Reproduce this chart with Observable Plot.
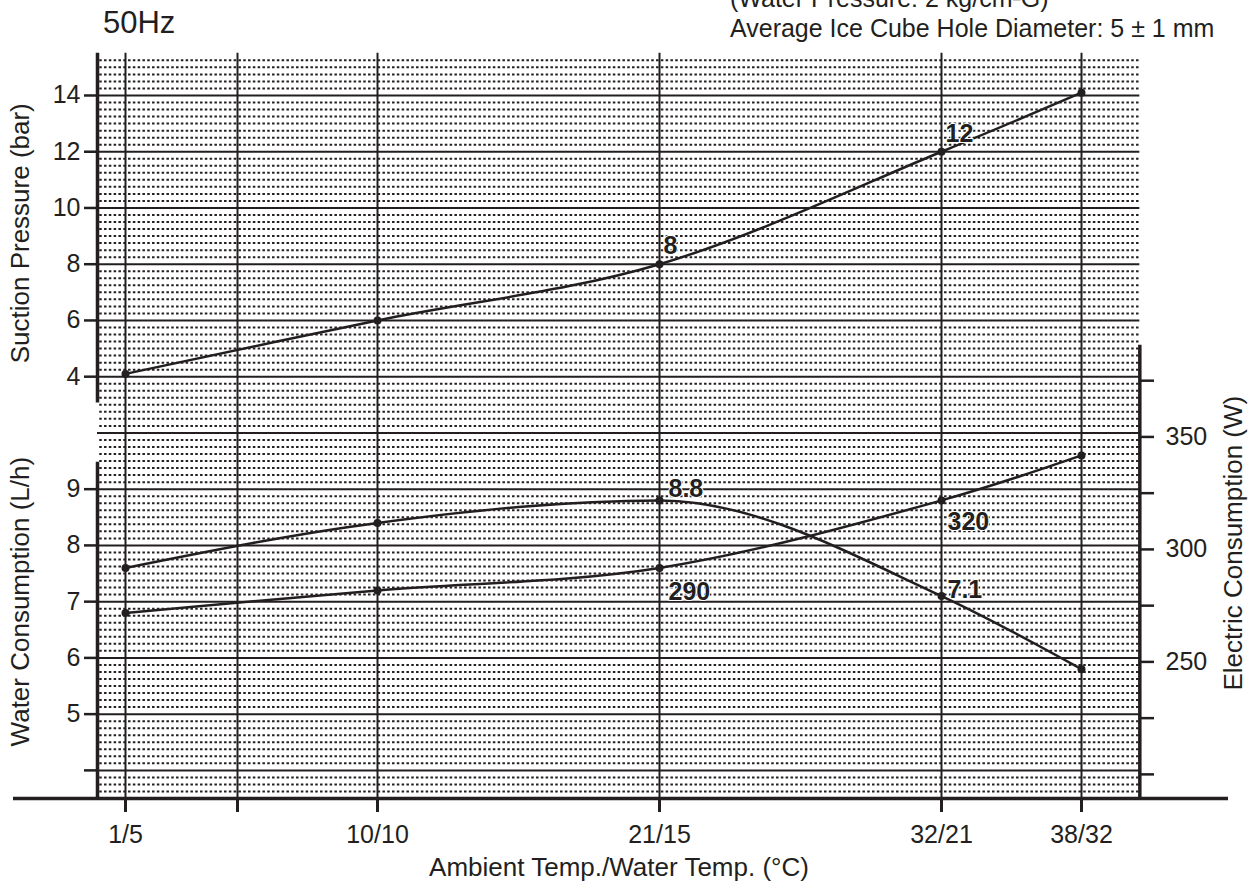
<!DOCTYPE html>
<html><head><meta charset="utf-8">
<script src="https://cdn.jsdelivr.net/npm/d3@7"></script>
<script src="https://cdn.jsdelivr.net/npm/@observablehq/plot@0.6"></script>
<style>
html,body{margin:0;padding:0;background:#fff;overflow:hidden;}
#wrap{position:relative;width:1258px;height:888px;overflow:hidden;font-family:"Liberation Sans",Arial,sans-serif;color:#231f20;}
#wrap svg{position:absolute;left:0;top:0;}
.t{position:absolute;white-space:nowrap;line-height:1;}
</style></head><body>
<div id="wrap">
<div class="t" style="left:103px;top:7px;font-size:31px;">50Hz</div>
<div class="t" style="left:730px;top:-14px;font-size:25px;">(Water Pressure: 2 kg/cm²G)</div>
<div class="t" style="left:730px;top:16px;font-size:25px;">Average Ice Cube Hole Diameter: 5 ± 1 mm</div>
</div>
<script>
// ---- data ----
const categories = ["1/5", "10/10", "21/15", "32/21", "38/32"];
const ambientTemp = [1, 10, 21, 32, 38];
const suctionPressure = [4.1, 6.0, 8.0, 12.0, 14.1];
const waterConsumption = [7.6, 8.4, 8.8, 7.1, 5.8];
const electricConsumption = [270, 280, 290, 320, 340];
const suctionLabels = [null, null, "8", "12", null];
const waterLabels = [null, null, "8.8", "7.1", null];
const electricLabels = [null, null, "290", "320", null];
const suctionTicks = [4, 6, 8, 10, 12, 14];
const waterTicks = [4, 5, 6, 7, 8, 9];
const electricTicks = [200, 225, 250, 275, 300, 325, 350, 375];
const electricTickLabels = [250, 300, 350];
const xTickValues = [1, 5, 10, 21, 32, 38];

const rows = categories.map((c, i) => ({
  cat: c, t: ambientTemp[i],
  suction: suctionPressure[i], water: waterConsumption[i], electric: electricConsumption[i],
  sl: suctionLabels[i], wl: waterLabels[i], el: electricLabels[i]
}));

// ---- layout ----
const W = 1258, H = 888;
const M = {marginTop: 52.8, marginBottom: 90, marginLeft: 97, marginRight: 118};
const xOpt = {type: "linear", domain: ambientTemp, range: [125, 377, 659, 941, 1081]};
const xLeft = 0, xRight = 40.5;
const ink = "#231f20";
const font = {fontFamily: "Liberation Sans, Arial, sans-serif", fontSize: "25px", color: ink, background: "transparent", overflow: "visible"};
const labelStyle = {textAnchor: "start", fontSize: 25, fontWeight: "bold", fill: ink, stroke: "white", strokeWidth: 2};

// grid in suction units (one grid cell = 2 bar)
const gridU = d3.range(0, 13);
const dotU = d3.range(-0.625, 12.5, 0.125).filter(u => Math.abs(u - Math.round(u)) > 1e-6);
const suctionDomain = [-11, 15.5];

const base = Plot.plot({
  width: W, height: H, ...M, style: font,
  x: xOpt, y: {domain: suctionDomain},
  marks: [
    Plot.ruleY(dotU.map(u => 14 - 2 * u), {x1: xLeft + 0.08, x2: xRight, stroke: ink, strokeWidth: 2, strokeDasharray: "2.5,2.3"}),
    Plot.ruleY(gridU.map(u => 14 - 2 * u), {x1: xLeft, x2: xRight, stroke: ink, strokeWidth: 2}),
    Plot.ruleX(xTickValues, {y1: suctionDomain[0], y2: suctionDomain[1], stroke: ink, strokeWidth: 2}),
    // left axis (upper segment) and bottom axis line
    Plot.ruleX([xLeft], {y1: 3.06, y2: suctionDomain[1], stroke: ink, strokeWidth: 3.5}),
    Plot.ruleY([suctionDomain[0]], {x1: -3, x2: 44.3, stroke: ink, strokeWidth: 3.5}),
    Plot.axisX({ticks: xTickValues, tickFormat: d => { const i = ambientTemp.indexOf(d); return i < 0 ? "" : categories[i]; },
      tickSize: 14, tickPadding: 13, strokeWidth: 3, fontSize: 25, label: null}),
    Plot.text(["Ambient Temp./Water Temp. (°C)"], {frameAnchor: "bottom", dy: 77, fontSize: 26, fill: ink}),
    Plot.axisY({ticks: suctionTicks, tickSize: 13, tickPadding: 4, strokeWidth: 2.5, fontSize: 25, label: null}),
    Plot.text(["Suction Pressure (bar)"], {x: xLeft, y: 9.1, rotate: -90, dx: -77, fontSize: 26, fill: ink}),
    Plot.line(rows, {x: "t", y: "suction", curve: "catmull-rom", stroke: ink, strokeWidth: 2.5}),
    Plot.dot(rows, {x: "t", y: "suction", r: 4, fill: ink}),
    Plot.text(rows, {filter: d => d.sl, x: "t", y: "suction", text: "sl", dx: 4, dy: -18, ...labelStyle})
  ]
});

const waterDomain = [3.5, 16.75];
const water = Plot.plot({
  width: W, height: H, ...M, style: font,
  x: {...xOpt, axis: null}, y: {domain: waterDomain},
  marks: [
    Plot.ruleX([xLeft], {y1: waterDomain[0], y2: 9.48, stroke: ink, strokeWidth: 3.5}),
    Plot.axisY({ticks: waterTicks, tickFormat: d => d === 4 ? "" : d, tickSize: 13, tickPadding: 4, strokeWidth: 2.5, fontSize: 25, label: null}),
    Plot.text(["Water Consumption (L/h)"], {x: xLeft, y: 7.0, rotate: -90, dx: -77, fontSize: 26, fill: ink}),
    Plot.line(rows, {x: "t", y: "water", curve: "monotone-x", stroke: ink, strokeWidth: 2.5}),
    Plot.dot(rows, {x: "t", y: "water", r: 4, fill: ink}),
    Plot.text(rows, {filter: d => d.wl === "8.8", x: "t", y: "water", text: "wl", dx: 9, dy: -11, ...labelStyle}),
    Plot.text(rows, {filter: d => d.wl === "7.1", x: "t", y: "water", text: "wl", dx: 6, dy: -6, ...labelStyle})
  ]
});

const electricDomain = [187.5, 518.75];
const electric = Plot.plot({
  width: W, height: H, ...M, style: font,
  x: {...xOpt, axis: null}, y: {domain: electricDomain},
  marks: [
    Plot.ruleX([xRight], {y1: electricDomain[0], y2: 389, stroke: ink, strokeWidth: 3.5}),
    Plot.axisY({anchor: "right", ticks: electricTicks, tickFormat: d => electricTickLabels.includes(d) ? d : "", tickSize: 13, tickPadding: 12, strokeWidth: 2.5, fontSize: 25, label: null, dy: 4}),
    Plot.text(["Electric Consumption (W)"], {x: xRight, y: 301, rotate: -90, dx: 94, fontSize: 26, fill: ink}),
    Plot.line(rows, {x: "t", y: "electric", curve: "catmull-rom", stroke: ink, strokeWidth: 2.5}),
    Plot.dot(rows, {x: "t", y: "electric", r: 4, fill: ink}),
    Plot.text(rows, {filter: d => d.el === "290", x: "t", y: "electric", text: "el", dx: 9, dy: 24, ...labelStyle}),
    Plot.text(rows, {filter: d => d.el === "320", x: "t", y: "electric", text: "el", dx: 6, dy: 22, ...labelStyle})
  ]
});

const wrap = document.getElementById("wrap");
wrap.prepend(base);
wrap.append(water, electric);
</script>
</body></html>
